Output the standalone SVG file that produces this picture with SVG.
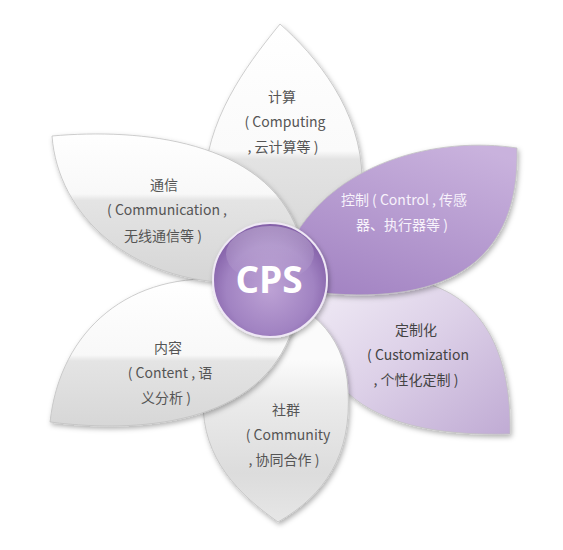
<svg xmlns="http://www.w3.org/2000/svg" width="563" height="550" viewBox="0 0 563 550">
<defs>
  <filter id="shadow" x="-20%" y="-20%" width="140%" height="140%">
    <feDropShadow dx="1.5" dy="2.5" stdDeviation="2.5" flood-color="#000" flood-opacity="0.3"/>
  </filter>
  <linearGradient id="gJisuan" gradientUnits="userSpaceOnUse" x1="0" y1="24" x2="0" y2="300">
    <stop offset="0" stop-color="#ffffff"/>
    <stop offset="0.46" stop-color="#fafafa"/>
    <stop offset="0.49" stop-color="#e3e3e3"/>
    <stop offset="1" stop-color="#d0d0d0"/>
  </linearGradient>
  <linearGradient id="gTongxin" gradientUnits="userSpaceOnUse" x1="0" y1="130" x2="0" y2="290">
    <stop offset="0" stop-color="#ffffff"/>
    <stop offset="0.4" stop-color="#f8f8f8"/>
    <stop offset="0.44" stop-color="#e4e4e4"/>
    <stop offset="1" stop-color="#d4d4d4"/>
  </linearGradient>
  <linearGradient id="gNeirong" gradientUnits="userSpaceOnUse" x1="0" y1="280" x2="0" y2="430">
    <stop offset="0" stop-color="#ffffff"/>
    <stop offset="0.5" stop-color="#f8f8f8"/>
    <stop offset="0.54" stop-color="#e4e4e4"/>
    <stop offset="1" stop-color="#d6d6d6"/>
  </linearGradient>
  <linearGradient id="gShequn" gradientUnits="userSpaceOnUse" x1="0" y1="360" x2="0" y2="522">
    <stop offset="0" stop-color="#fbfbfb"/>
    <stop offset="0.25" stop-color="#ebebeb"/>
    <stop offset="0.7" stop-color="#dcdcdc"/>
    <stop offset="1" stop-color="#e6e6e6"/>
  </linearGradient>
  <linearGradient id="gKongzhi" x1="0.8" y1="0" x2="0.3" y2="1">
    <stop offset="0" stop-color="#c9b2dd"/>
    <stop offset="1" stop-color="#a384c3"/>
  </linearGradient>
  <linearGradient id="gDingzhi" x1="0" y1="0" x2="1" y2="1">
    <stop offset="0" stop-color="#f4f0f8"/>
    <stop offset="0.5" stop-color="#ddd1e8"/>
    <stop offset="1" stop-color="#c0abd4"/>
  </linearGradient>
  <radialGradient id="gCircle" cx="0.5" cy="0.58" r="0.55">
    <stop offset="0" stop-color="#bda2d5"/>
    <stop offset="0.7" stop-color="#a183c2"/>
    <stop offset="1" stop-color="#8562a9"/>
  </radialGradient>
  <linearGradient id="gHighlight" x1="0" y1="0" x2="0" y2="1">
    <stop offset="0" stop-color="#ffffff" stop-opacity="0.3"/>
    <stop offset="1" stop-color="#ffffff" stop-opacity="0"/>
  </linearGradient>
</defs>
<style>
  .petal { stroke: #c2c2c2; stroke-width: 0.8; filter: url(#shadow); }
  .lbl { font-family: 'Noto Sans CJK SC', 'Noto Sans', sans-serif; font-size: 14px; text-anchor: middle; fill: #555555; white-space: pre; }
  .lblw { fill: #f7f2fb; }
  .lbld { fill: #444444; }
  .cps { font-family: 'Open Sans', 'Liberation Sans', sans-serif; font-size: 37px; font-weight: 700; text-anchor: middle; fill: #ffffff; }
</style>

<g id="jisuan">
  <path class="petal" fill="url(#gJisuan)" d="M280,24 C255,55 210,110 205,175 C205,240 240,295 285,295 C330,295 362,240 362,180 C362,110 315,55 280,24 Z"/>
  <text class="lbl" x="282" y="102">计算</text>
  <text class="lbl" x="285" y="127">( Computing</text>
  <text class="lbl" x="283" y="152">, 云计算等 )</text>
</g>

<g id="dingzhihua">
  <path class="petal" fill="url(#gDingzhi)" d="M420,282 C480,295 512,350 510,434 C440,436 375,425 340,385 L300,320 L330,270 Z"/>
  <text class="lbl lbld" x="416" y="335">定制化</text>
  <text class="lbl lbld" x="418" y="360">( Customization</text>
  <text class="lbl lbld" x="416" y="385">, 个性化定制 )</text>
</g>

<g id="shequn">
  <path class="petal" fill="url(#gShequn)" d="M278,522 C325,495 352,455 348,390 C346,330 300,300 275,300 C240,300 205,340 203,400 C202,460 240,495 278,522 Z"/>
  <text class="lbl" x="286" y="415">社群</text>
  <text class="lbl" x="288" y="440">( Community</text>
  <text class="lbl" x="284" y="465">, 协同合作 )</text>
</g>

<g id="neirong">
  <path class="petal" fill="url(#gNeirong)" d="M50,422 C60,330 130,270 230,280 L295,320 C270,420 150,435 50,422 Z"/>
  <text class="lbl" x="168" y="353">内容</text>
  <text class="lbl" x="170" y="378">( Content , 语</text>
  <text class="lbl" x="166" y="403">义分析 )</text>
</g>

<g id="tongxin">
  <path class="petal" fill="url(#gTongxin)" d="M52,136 C140,128 265,140 298,232 L290,285 L240,283 C130,283 58,215 52,136 Z"/>
  <text class="lbl" x="164" y="190">通信</text>
  <text class="lbl" x="167" y="215">( Communication ,</text>
  <text class="lbl" x="163" y="241">无线通信等 )</text>
</g>

<g id="kongzhi">
  <path class="petal" fill="url(#gKongzhi)" d="M517,148 C440,136 330,160 287,250 L300,300 L322,293 C450,305 520,260 517,148 Z" stroke="#b8a2cc"/>
  <text class="lbl lblw" x="404" y="205">控制 ( Control , 传感</text>
  <text class="lbl lblw" x="402" y="230">器、执行器等 )</text>
</g>

<g id="cps">
  <circle cx="270" cy="280" r="57" fill="url(#gCircle)" stroke="#efe8f5" stroke-width="2" filter="url(#shadow)"/>
  <ellipse cx="270" cy="254" rx="44" ry="28" fill="url(#gHighlight)"/>
  <text class="cps" x="269" y="293">CPS</text>
</g>

<g id="connectors"></g>
</svg>
